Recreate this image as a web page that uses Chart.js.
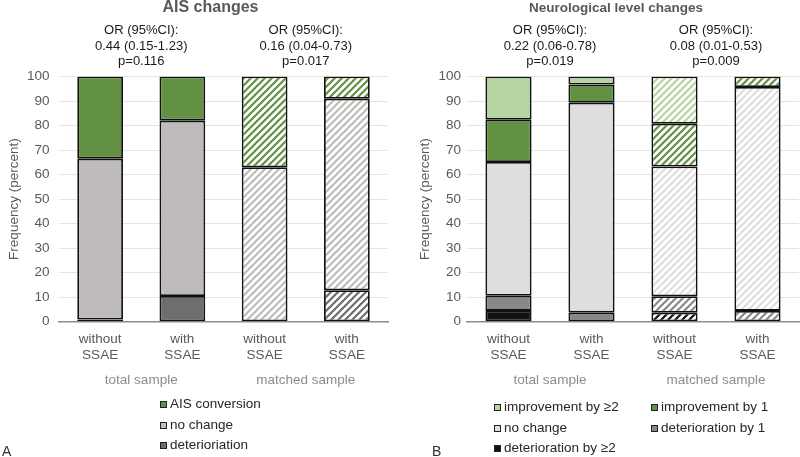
<!DOCTYPE html>
<html>
<head>
<meta charset="utf-8">
<script src="https://cdn.jsdelivr.net/npm/chart.js@4.4.0/dist/chart.umd.min.js"></script>
<style>
body { margin: 0; background: #fff; font-family: "Liberation Sans", Arial, sans-serif; }
#wrap { position: relative; width: 800px; height: 457px; overflow: hidden; }
#wrap canvas { position: absolute; top: 0; }
.leg { position: absolute; height: 16px; line-height: 16px; font-size: 13.5px; color: #262626; white-space: nowrap; display: flex; align-items: center; }
.leg i { display: inline-block; width: 5px; height: 5px; border: 1.5px solid #222; margin-right: 3px; }
.panel { position: absolute; font-size: 14px; color: #333; }
</style>
</head>
<body>
<div id="wrap">
  <canvas id="chartA" width="400" height="457" style="left:0"></canvas>
  <canvas id="chartB" width="400" height="457" style="left:400px"></canvas>
  <div class="panel" style="left:2px;top:443px">A</div>
  <div class="panel" style="left:432px;top:443px">B</div>
</div>
<script>
// categories
const xLabels = [['without', 'SSAE'], ['with', 'SSAE'], ['without', 'SSAE'], ['with', 'SSAE']]
const groupLabels = ['total sample', 'matched sample']

// A: AIS changes (percent)
const aisDeterioration = [0.9, 10.5, 0, 12.8]
const aisNoChange = [65.6, 71.5, 63.0, 78.1]
const aisConversion = [33.5, 18.0, 37.0, 9.1]
const aisOR = [
    ['OR (95%CI):', '0.44 (0.15-1.23)', 'p=0.116'],
    ['OR (95%CI):', '0.16 (0.04-0.73)', 'p=0.017']
]
const aisLegend = ['AIS conversion', 'no change', 'deterioriation']

// B: neurological level changes (percent)
const nlDet2 = [4.4, 0, 3.7, 0]
const nlDet1 = [6.2, 3.7, 6.7, 4.4]
const nlNoChange = [54.5, 85.6, 52.9, 91.3]
const nlImp1 = [17.3, 7.4, 17.4, 4.3]
const nlImp2 = [17.6, 3.3, 19.3, 0]
const nlOR = [
    ['OR (95%CI):', '0.22 (0.06-0.78)', 'p=0.019'],
    ['OR (95%CI):', '0.08 (0.01-0.53)', 'p=0.009']
]
const nlLegend = ['improvement by \u22652', 'improvement by 1', 'no change', 'deterioration by 1', 'deterioration by \u22652']

const FONT = '"Liberation Sans", Arial, sans-serif'
const TXT = '#595959'

function hatch(color) {
    var c = document.createElement('canvas')
    c.width = 7
    c.height = 7
    var g = c.getContext('2d')
    g.fillStyle = '#fff'
    g.fillRect(0, 0, 7, 7)
    g.strokeStyle = color
    g.lineWidth = 2.2
    g.beginPath()
    g.moveTo(-1, 8); g.lineTo(8, -1)
    g.moveTo(-1, 1); g.lineTo(1, -1)
    g.moveTo(6, 8); g.lineTo(8, 6)
    g.stroke()
    return g.createPattern(c, 'repeat')
}

function fills(color) {
    var p = hatch(color)
    return [color, color, p, p]
}

function makeDataset(label, data, color) {
    return {
        label: label,
        data: data,
        backgroundColor: fills(color),
        borderColor: '#111',
        borderWidth: 1.8,
        borderSkipped: false,
        barPercentage: 0.556,
        categoryPercentage: 1
    }
}

const orPlugin = {
    id: 'orText',
    afterDraw(chart, args, opts) {
        var ctx = chart.ctx
        var xs = chart.scales.x
        ctx.save()
        ctx.textAlign = 'center'
        ctx.textBaseline = 'middle'
        ctx.fillStyle = TXT
        ctx.font = opts.titleFont
        ctx.fillText(opts.title, opts.titleX, 8)
        ctx.fillStyle = '#1a1a1a'
        ctx.font = '13px ' + FONT
        opts.lines.forEach((lines, g) => {
            var cx = (xs.getPixelForValue(2 * g) + xs.getPixelForValue(2 * g + 1)) / 2
            lines.forEach((t, i) => ctx.fillText(t, cx, 30.7 + i * 15.5))
        })
        ctx.restore()
    }
}

function makeChart(id, datasets, cfg) {
    var font = { family: FONT, size: 13.5 }
    return new Chart(document.getElementById(id), {
        type: 'bar',
        data: { labels: xLabels, datasets: datasets },
        plugins: [orPlugin],
        options: {
            responsive: false,
            animation: false,
            layout: { padding: { top: 76.5, right: cfg.padRight, bottom: 63.3, left: 0 } },
            plugins: {
                legend: { display: false },
                tooltip: { enabled: false },
                orText: { title: cfg.title, titleX: cfg.titleX, titleFont: cfg.titleFont, lines: cfg.orLines }
            },
            scales: {
                x: {
                    stacked: true,
                    grid: { display: false, drawTicks: false },
                    border: { color: '#8c8c8c', width: 1.5 },
                    ticks: { color: TXT, font: font, padding: 9.2, maxRotation: 0, autoSkip: false },
                    afterFit: s => { s.height = 42 }
                },
                x2: {
                    type: 'category',
                    labels: groupLabels,
                    position: 'bottom',
                    grid: { display: false, drawTicks: false },
                    border: { display: false },
                    ticks: { color: '#8c8c8c', font: font, padding: 8.2 },
                    afterFit: s => { s.height = 30 }
                },
                y: {
                    stacked: true,
                    min: 0,
                    max: 100,
                    ticks: { stepSize: 10, color: TXT, font: font, padding: cfg.tickPad },
                    grid: { color: c => c.tick.value === 0 ? 'rgba(0,0,0,0)' : '#e4e4e4', drawTicks: false },
                    border: { display: false },
                    title: { display: true, text: 'Frequency (percent)', color: TXT, font: font, padding: { top: cfg.titlePad, bottom: 0 } },
                    afterFit: s => { s.width = cfg.axisWidth }
                }
            }
        }
    })
}

function addLegend(items, colors, positions) {
    var wrap = document.getElementById('wrap')
    items.forEach((t, i) => {
        var d = document.createElement('div')
        d.className = 'leg'
        d.style.left = positions[i][0] + 'px'
        d.style.top = (positions[i][1] - 8) + 'px'
        var box = document.createElement('i')
        box.style.background = colors[i]
        d.appendChild(box)
        d.appendChild(document.createTextNode(t))
        wrap.appendChild(d)
    })
}

const cGreen = '#629144'
const cLightGreen = '#b5d6a0'

makeChart('chartA', [
    makeDataset('deterioriation', aisDeterioration, '#6e6e6e'),
    makeDataset('no change', aisNoChange, '#bfbbbb'),
    makeDataset('AIS conversion', aisConversion, cGreen)
], { padRight: 12, axisWidth: 59, tickPad: 9.5, titlePad: 6, title: 'AIS changes', titleX: 210.5, titleFont: 'bold 16px ' + FONT, orLines: aisOR })

makeChart('chartB', [
    makeDataset('deterioration by \u22652', nlDet2, '#111111'),
    makeDataset('deterioration by 1', nlDet1, '#8b8787'),
    makeDataset('no change', nlNoChange, '#dedede'),
    makeDataset('improvement by 1', nlImp1, cGreen),
    makeDataset('improvement by \u22652', nlImp2, cLightGreen)
], { padRight: 1, axisWidth: 67, tickPad: 6, titlePad: 17, title: 'Neurological level changes', titleX: 216, titleFont: 'bold 13.5px ' + FONT, orLines: nlOR })

addLegend(aisLegend, [cGreen, '#bfbbbb', '#6e6e6e'], [[160, 404], [160, 425], [160, 445]])
addLegend(nlLegend, [cLightGreen, cGreen, '#dedede', '#8b8787', '#111111'],
    [[494, 407], [651, 407], [494, 428], [651, 428], [494, 448]])
</script>
</body>
</html>
